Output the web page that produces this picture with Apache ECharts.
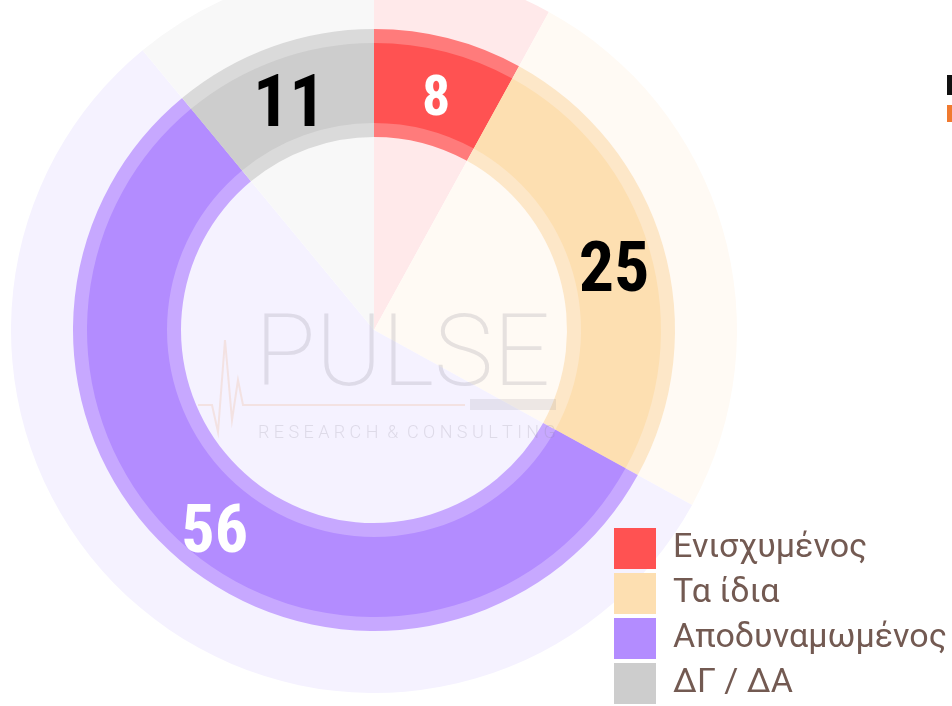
<!DOCTYPE html>
<html>
<head>
<meta charset="utf-8">
<script src="https://cdn.jsdelivr.net/npm/echarts@6/dist/echarts.min.js"></script>
<style>
  html, body { margin: 0; padding: 0; background: #fff; }
  #chart { width: 952px; height: 706px; }
</style>
</head>
<body>
<div id="chart"></div>
<script>
// δεδομένα
const categories = ['Ενισχυμένος', 'Τα ίδια', 'Αποδυναμωμένος', 'ΔΓ / ΔΑ'];
const values = [8, 25, 56, 11];
const solidColors = ['#ff5252', '#fddfb1', '#b38cff', '#cdcdcd'];
const borderColors = ['#ff7b7b', '#fde7c8', '#c7a8ff', '#dadada'];
const paleColors = ['#ffe9ea', '#fffaf4', '#f5f2ff', '#f8f8f8'];
const labelColors = ['#ffffff', '#000000', '#ffffff', '#000000'];
const labelSizes = [56, 70, 66, 72];

const chart = echarts.init(document.getElementById('chart'));

const center = [374, 330];
// οι ετικέτες κάθονται λίγο πιο χαμηλά από το κέντρο του δακτυλίου
const labelCenter = [374, 343];

function makeData(colors) {
    return categories.map((name, i) => ({
        name: name, value: values[i], itemStyle: { color: colors[i] }
    }));
}

function makeLabelData() {
    return categories.map((name, i) => ({
        name: name, value: values[i],
        itemStyle: { color: 'rgba(0,0,0,0)' },
        label: { color: labelColors[i], fontSize: labelSizes[i] }
    }));
}

const option = {
    animation: false,
    legend: {
        orient: 'vertical',
        left: 614,
        top: 528,
        padding: 0,
        itemWidth: 42,
        itemHeight: 41,
        itemGap: 4,
        icon: 'rect',
        data: categories,
        selectedMode: false,
        textStyle: {
            fontFamily: 'Roboto',
            fontSize: 34,
            color: '#735a52',
            padding: [0, 0, 0, 12]
        }
    },
    graphic: [
        // watermark
        { type: 'text', left: 255, top: 310, z: 10, silent: true,
          style: { text: 'PULSE', font: '200 100px Roboto', fill: 'rgba(140,135,150,0.22)' } },
        { type: 'text', left: 258, top: 424, z: 10, silent: true,
          style: { text: 'R E S E A R C H  &  C O N S U L T I N G', font: '300 18px Roboto', fill: 'rgba(140,135,150,0.22)' } },
        { type: 'polyline', z: 10, silent: true,
          shape: { points: [[198, 405], [212, 405], [218, 432], [225, 340], [232, 420], [238, 380], [243, 405], [465, 405]] },
          style: { stroke: 'rgba(240,190,160,0.3)', lineWidth: 2, fill: null } },
        { type: 'rect', z: 10, silent: true,
          shape: { x: 470, y: 399, width: 86, height: 11 },
          style: { fill: 'rgba(140,135,150,0.16)' } },
        // cut-off text at right edge
        { type: 'rect', z: 10, silent: true, shape: { x: 947, y: 75, width: 6, height: 20 }, style: { fill: '#111' } },
        { type: 'rect', z: 10, silent: true, shape: { x: 947, y: 105, width: 6, height: 17 }, style: { fill: '#f07a30' } }
    ],
    series: [
        {
            name: 'solid',
            type: 'pie',
            z: 3,
            center: center,
            radius: [207, 287],
            startAngle: 90,
            silent: true,
            data: makeData(solidColors),
            label: { show: false },
            labelLine: { show: false }
        },
        {
            name: 'border',
            type: 'pie',
            z: 2,
            center: center,
            radius: [193, 301],
            startAngle: 90,
            silent: true,
            data: makeData(borderColors),
            label: { show: false },
            labelLine: { show: false }
        },
        {
            name: 'pale',
            type: 'pie',
            z: 1,
            center: center,
            radius: [0, 363],
            startAngle: 90,
            silent: true,
            data: makeData(paleColors),
            label: { show: false },
            labelLine: { show: false }
        },
        {
            name: 'labels',
            type: 'pie',
            z: 4,
            center: labelCenter,
            radius: [207, 287],
            startAngle: 90,
            silent: true,
            data: makeLabelData(),
            label: {
                show: true,
                position: 'inside',
                formatter: '{c}',
                fontFamily: '"Liberation Sans Narrow", "Roboto Condensed", Roboto',
                fontWeight: 'bold'
            },
            labelLine: { show: false }
        }
    ]
};

chart.setOption(option);
</script>
</body>
</html>
